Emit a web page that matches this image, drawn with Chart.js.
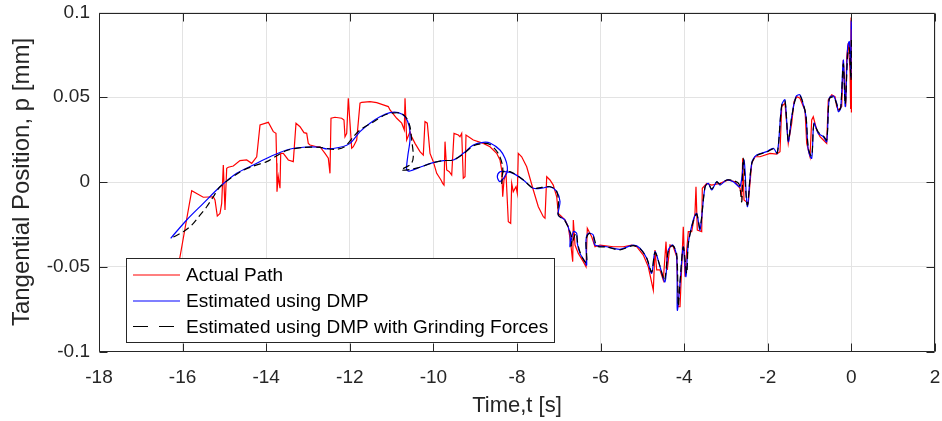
<!DOCTYPE html>
<html>
<head>
<meta charset="utf-8">
<script src="https://cdn.jsdelivr.net/npm/chart.js@4/dist/chart.umd.min.js"></script>
<style>
  html, body { margin: 0; padding: 0; background: #ffffff; }
  #wrap { width: 942px; height: 421px; position: relative; }
</style>
</head>
<body>
<div id="wrap"><canvas id="c" width="942" height="421"></canvas></div>
<script>
// Time axis ticks and position axis ticks
const timeTicks = [-18, -16, -14, -12, -10, -8, -6, -4, -2, 0, 2];
const posTicks = [-0.1, -0.05, 0, 0.05, 0.1];
const posTickLabels = ['-0.1', '-0.05', '0', '0.05', '0.1'];

const seriesNames = ['Actual Path', 'Estimated using DMP', 'Estimated using DMP with Grinding Forces'];

// Actual (measured) path
const actualT = [-16.278,-16.062,-15.782,-15.505,-15.266,-15.225,-15.170,-15.105,-15.065,-15.026,-14.986,-14.945,-14.907,-14.787,-14.627,-14.467,-14.347,-14.227,-14.148,-13.950,-13.830,-13.766,-13.749,-13.742,-13.711,-13.670,-13.653,-13.591,-13.471,-13.352,-13.287,-13.191,-13.096,-13.031,-12.993,-12.952,-12.792,-12.713,-12.593,-12.514,-12.474,-12.450,-12.354,-12.194,-12.139,-12.115,-12.074,-12.036,-11.995,-11.955,-11.916,-11.835,-11.756,-11.715,-11.517,-11.356,-11.199,-11.079,-11.038,-10.878,-10.758,-10.696,-10.679,-10.639,-10.560,-10.519,-10.440,-10.321,-10.242,-10.201,-10.146,-10.081,-10.002,-9.921,-9.818,-9.778,-9.746,-9.722,-9.682,-9.620,-9.562,-9.507,-9.404,-9.364,-9.323,-9.285,-9.244,-9.220,-9.045,-8.806,-8.646,-8.486,-8.407,-8.366,-8.342,-8.311,-8.263,-8.208,-8.151,-8.127,-8.089,-8.024,-7.993,-7.969,-7.888,-7.768,-7.610,-7.490,-7.371,-7.330,-7.289,-7.211,-7.132,-7.050,-7.012,-6.852,-6.773,-6.715,-6.667,-6.653,-6.612,-6.533,-6.414,-6.349,-6.318,-6.213,-6.134,-6.014,-5.696,-5.457,-5.256,-5.136,-4.978,-4.859,-4.739,-4.699,-4.658,-4.579,-4.500,-4.435,-4.404,-4.340,-4.261,-4.179,-4.141,-4.100,-4.060,-4.022,-3.981,-3.940,-3.902,-3.821,-3.742,-3.718,-3.687,-3.581,-3.567,-3.462,-3.342,-3.144,-2.945,-2.785,-2.665,-2.624,-2.601,-2.569,-2.467,-2.385,-2.306,-2.187,-1.947,-1.787,-1.708,-1.667,-1.589,-1.510,-1.428,-1.373,-1.309,-1.230,-1.151,-1.110,-1.069,-0.990,-0.950,-0.912,-0.830,-0.751,-0.672,-0.591,-0.553,-0.471,-0.392,-0.352,-0.313,-0.232,-0.194,-0.136,-0.112,-0.074,-0.033,-0.018,-0.008,0.000];
const actualP = [-0.0697,-0.0441,-0.0051,-0.0090,-0.0087,-0.0106,-0.0201,-0.0185,-0.0126,0.0100,-0.0165,0.0081,0.0087,0.0094,0.0126,0.0130,0.0110,0.0149,0.0336,0.0352,0.0297,0.0287,0.0110,-0.0057,0.0031,-0.0037,0.0169,0.0169,0.0130,0.0120,0.0347,0.0326,0.0291,0.0287,0.0228,0.0218,0.0208,0.0208,0.0169,0.0140,0.0051,0.0376,0.0382,0.0376,0.0366,0.0267,0.0287,0.0494,0.0347,0.0199,0.0208,0.0248,0.0465,0.0470,0.0474,0.0468,0.0455,0.0445,0.0425,0.0376,0.0347,0.0307,0.0494,0.0248,0.0297,0.0267,0.0228,0.0179,0.0159,0.0356,0.0347,0.0169,0.0120,0.0051,0.0012,-0.0008,-0.0018,0.0238,0.0071,0.0061,0.0041,0.0287,0.0277,0.0267,0.0287,0.0022,0.0031,0.0277,0.0248,0.0228,0.0208,0.0169,0.0130,0.0071,-0.0087,0.0012,0.0051,-0.0234,-0.0244,-0.0008,-0.0057,-0.0028,-0.0067,0.0169,0.0149,0.0090,-0.0047,-0.0146,-0.0205,-0.0214,0.0031,0.0012,-0.0018,-0.0087,-0.0185,-0.0224,-0.0264,-0.0362,-0.0470,-0.0224,-0.0372,-0.0421,-0.0470,-0.0500,-0.0273,-0.0323,-0.0382,-0.0372,-0.0382,-0.0382,-0.0372,-0.0382,-0.0431,-0.0500,-0.0638,-0.0401,-0.0519,-0.0519,-0.0579,-0.0352,-0.0519,-0.0372,-0.0382,-0.0441,-0.0736,-0.0736,-0.0500,-0.0264,-0.0559,-0.0401,-0.0293,-0.0293,-0.0185,-0.0028,-0.0283,-0.0293,-0.0037,-0.0008,-0.0018,-0.0008,0.0012,0.0002,-0.0037,-0.0087,0.0140,-0.0106,-0.0126,0.0110,0.0149,0.0149,0.0169,0.0165,0.0179,0.0445,0.0465,0.0228,0.0347,0.0474,0.0504,0.0494,0.0445,0.0425,0.0228,0.0149,0.0366,0.0385,0.0307,0.0267,0.0248,0.0228,0.0484,0.0514,0.0504,0.0445,0.0425,0.0445,0.0720,0.0445,0.0740,0.0819,0.0661,0.0430,0.0970,0.0410];

// DMP estimate
const dmpT = [-16.285,-15.902,-15.505,-15.105,-14.706,-14.309,-13.909,-13.510,-13.112,-12.713,-12.553,-12.234,-11.995,-11.756,-11.517,-11.278,-11.038,-10.840,-10.679,-10.577,-10.560,-10.615,-10.639,-10.560,-10.321,-10.002,-9.763,-9.524,-9.285,-9.045,-8.806,-8.646,-8.407,-8.287,-8.232,-8.246,-8.407,-8.471,-8.407,-8.287,-8.089,-7.849,-7.610,-7.409,-7.211,-7.050,-6.971,-7.012,-6.852,-6.732,-6.732,-6.653,-6.572,-6.557,-6.493,-6.373,-6.333,-6.349,-6.294,-6.175,-6.134,-5.854,-5.536,-5.218,-5.057,-4.897,-4.778,-4.699,-4.579,-4.459,-4.380,-4.275,-4.179,-4.165,-4.100,-4.022,-3.957,-3.902,-3.782,-3.701,-3.622,-3.502,-3.423,-3.342,-3.222,-3.144,-2.983,-2.825,-2.665,-2.569,-2.490,-2.385,-2.266,-2.026,-1.868,-1.773,-1.667,-1.589,-1.510,-1.428,-1.325,-1.230,-1.151,-1.086,-1.031,-0.950,-0.895,-0.792,-0.672,-0.591,-0.529,-0.433,-0.352,-0.313,-0.256,-0.194,-0.146,-0.089,-0.050,-0.015,-0.005,0.000];
const dmpP = [-0.0332,-0.0224,-0.0126,-0.0028,0.0051,0.0100,0.0149,0.0189,0.0205,0.0205,0.0195,0.0205,0.0228,0.0297,0.0347,0.0385,0.0409,0.0409,0.0385,0.0326,0.0248,0.0149,0.0071,0.0065,0.0087,0.0114,0.0126,0.0130,0.0169,0.0218,0.0234,0.0230,0.0189,0.0140,0.0090,0.0051,0.0002,0.0031,0.0061,0.0061,0.0051,0.0012,-0.0037,-0.0037,-0.0028,-0.0057,-0.0116,-0.0195,-0.0224,-0.0303,-0.0382,-0.0293,-0.0303,-0.0362,-0.0421,-0.0470,-0.0490,-0.0342,-0.0303,-0.0313,-0.0372,-0.0382,-0.0397,-0.0372,-0.0391,-0.0450,-0.0539,-0.0411,-0.0500,-0.0589,-0.0401,-0.0372,-0.0441,-0.0756,-0.0598,-0.0382,-0.0559,-0.0362,-0.0224,-0.0185,-0.0283,-0.0028,-0.0008,-0.0047,0.0002,-0.0018,0.0012,0.0002,-0.0028,0.0130,-0.0146,0.0110,0.0159,0.0179,0.0199,0.0169,0.0455,0.0484,0.0238,0.0385,0.0504,0.0514,0.0455,0.0385,0.0189,0.0140,0.0347,0.0287,0.0267,0.0238,0.0494,0.0508,0.0465,0.0415,0.0435,0.0720,0.0445,0.0799,0.0828,0.0620,0.0950,0.0900];

// DMP estimate with grinding forces
const dmpForceT = [-16.222,-15.983,-15.782,-15.584,-15.423,-15.266,-15.105,-14.627,-14.309,-13.988,-13.789,-13.510,-13.112,-12.713,-12.354,-12.115,-11.916,-11.756,-11.438,-11.134,-10.799,-10.639,-10.560,-10.519,-10.481,-10.536,-10.775,-10.560,-10.321,-10.002,-9.763,-9.524,-9.285,-9.045,-8.806,-8.646,-8.455,-8.342,-8.366,-8.328,-8.167,-7.849,-7.610,-7.409,-7.211,-7.067,-7.007,-7.012,-6.852,-6.684,-6.708,-6.589,-6.541,-6.445,-6.333,-6.349,-6.278,-6.175,-6.086,-5.854,-5.536,-5.218,-5.057,-4.897,-4.778,-4.699,-4.579,-4.471,-4.380,-4.275,-4.179,-4.141,-4.100,-4.022,-3.940,-3.902,-3.782,-3.701,-3.622,-3.502,-3.423,-3.342,-3.222,-3.144,-2.983,-2.825,-2.689,-2.624,-2.586,-2.490,-2.385,-2.266,-2.026,-1.868,-1.773,-1.667,-1.589,-1.510,-1.428,-1.325,-1.230,-1.151,-1.086,-1.031,-0.950,-0.895,-0.792,-0.672,-0.591,-0.529,-0.433,-0.352,-0.313,-0.256,-0.194,-0.146,-0.089,-0.050,-0.010,0.000];
const dmpForceP = [-0.0325,-0.0293,-0.0254,-0.0195,-0.0146,-0.0087,-0.0028,0.0059,0.0094,0.0120,0.0149,0.0186,0.0204,0.0204,0.0192,0.0210,0.0266,0.0307,0.0354,0.0398,0.0407,0.0376,0.0326,0.0248,0.0149,0.0106,0.0071,0.0074,0.0087,0.0114,0.0126,0.0130,0.0165,0.0213,0.0227,0.0221,0.0171,0.0090,-0.0008,0.0061,0.0061,0.0012,-0.0037,-0.0032,-0.0028,-0.0047,-0.0106,-0.0195,-0.0230,-0.0331,-0.0378,-0.0301,-0.0372,-0.0443,-0.0478,-0.0342,-0.0304,-0.0319,-0.0378,-0.0384,-0.0400,-0.0375,-0.0393,-0.0449,-0.0531,-0.0416,-0.0496,-0.0579,-0.0407,-0.0375,-0.0425,-0.0732,-0.0590,-0.0384,-0.0539,-0.0366,-0.0230,-0.0189,-0.0272,-0.0030,-0.0009,-0.0041,0.0000,-0.0012,0.0012,0.0009,-0.0012,-0.0116,0.0140,-0.0136,0.0109,0.0156,0.0177,0.0195,0.0171,0.0449,0.0478,0.0245,0.0381,0.0499,0.0508,0.0460,0.0390,0.0201,0.0153,0.0342,0.0295,0.0272,0.0248,0.0490,0.0502,0.0460,0.0425,0.0437,0.0697,0.0460,0.0750,0.0791,0.0602,0.0838];

const seriesColors = ['#ff0000', '#0000ff', '#000000'];
const textColor = '#262626';
const toPoints = (ts, ps) => ts.map((t, i) => ({ x: t, y: ps[i] }));

// Axes box with inward tick marks on all four sides
const axesBox = {
  id: 'axesBox',
  afterDatasetsDraw(chart) {
    const { ctx, chartArea: a, scales } = chart;
    ctx.save();
    ctx.strokeStyle = textColor;
    ctx.lineWidth = 1;
    const L = Math.round(a.left) + 0.5, R = Math.round(a.right) - 0.5;
    const T = Math.round(a.top) + 0.5, B = Math.round(a.bottom) - 0.5;
    ctx.beginPath();
    ctx.rect(L, T, R - L, B - T);
    const len = 8;
    timeTicks.forEach(v => {
      const x = Math.round(scales.x.getPixelForValue(v)) + 0.5;
      ctx.moveTo(x, B); ctx.lineTo(x, B - len);
      ctx.moveTo(x, T); ctx.lineTo(x, T + len);
    });
    posTicks.forEach(v => {
      const y = Math.round(scales.y.getPixelForValue(v)) + 0.5;
      ctx.moveTo(L, y); ctx.lineTo(L + len, y);
      ctx.moveTo(R, y); ctx.lineTo(R - len, y);
    });
    ctx.stroke();
    ctx.restore();
  }
};

// Boxed legend inside the axes, lower left
const boxedLegend = {
  id: 'boxedLegend',
  afterDraw(chart) {
    const { ctx, chartArea: a } = chart;
    const x0 = a.left + 27, y0 = 258.5, w = 428, h = 84;
    ctx.save();
    ctx.fillStyle = '#ffffff';
    ctx.fillRect(x0, y0, w, h);
    ctx.strokeStyle = textColor;
    ctx.lineWidth = 1;
    ctx.strokeRect(x0 + 0.5, y0, w, h);
    ctx.font = '19px "Liberation Sans", Arial, sans-serif';
    ctx.textBaseline = 'middle';
    ctx.fillStyle = '#000000';
    const rows = [275, 301, 326.5];
    seriesNames.forEach((name, i) => {
      const y = rows[i];
      ctx.beginPath();
      ctx.strokeStyle = seriesColors[i];
      ctx.lineWidth = 1.2;
      ctx.setLineDash(i === 2 ? [15, 11] : []);
      ctx.moveTo(x0 + 7, y);
      ctx.lineTo(x0 + 54, y);
      ctx.stroke();
      ctx.setLineDash([]);
      ctx.fillText(name, x0 + 60, y + 1);
    });
    ctx.restore();
  }
};

new Chart(document.getElementById('c'), {
  type: 'line',
  data: {
    datasets: [
      { label: seriesNames[0], data: toPoints(actualT, actualP), borderColor: seriesColors[0], borderWidth: 1.2, pointRadius: 0, tension: 0, order: 3 },
      { label: seriesNames[1], data: toPoints(dmpT, dmpP), borderColor: seriesColors[1], borderWidth: 1.2, pointRadius: 0, tension: 0.3, order: 2 },
      { label: seriesNames[2], data: toPoints(dmpForceT, dmpForceP), borderColor: seriesColors[2], borderWidth: 1.2, borderDash: [7, 4], pointRadius: 0, tension: 0.3, order: 1 }
    ]
  },
  options: {
    responsive: false,
    animation: false,
    events: [],
    layout: { padding: { left: 0, right: 7, top: 12.5, bottom: 0 } },
    plugins: { legend: { display: false }, tooltip: { enabled: false } },
    scales: {
      x: {
        type: 'linear',
        min: -18, max: 2,
        afterBuildTicks: s => { s.ticks = timeTicks.map(v => ({ value: v })); },
        afterFit: s => { s.height = 69.5; s.paddingLeft = 0; s.paddingRight = 0; },
        ticks: { color: textColor, padding: 15, maxRotation: 0, font: { family: '"Liberation Sans", Arial, sans-serif', size: 19 }, callback: v => String(v) },
        grid: { color: '#e3e3e3', lineWidth: 1, drawTicks: false },
        border: { display: false },
        title: { display: true, text: 'Time,t [s]', color: textColor, font: { family: '"Liberation Sans", Arial, sans-serif', size: 22 }, padding: { top: 0, bottom: 2 } }
      },
      y: {
        type: 'linear',
        min: -0.1, max: 0.1,
        afterBuildTicks: s => { s.ticks = posTicks.map(v => ({ value: v })); },
        afterFit: s => { s.width = 99; s.paddingTop = 0; s.paddingBottom = 0; },
        ticks: { color: textColor, padding: 9, font: { family: '"Liberation Sans", Arial, sans-serif', size: 19 }, callback: (v, i) => posTickLabels[i] },
        grid: { color: '#e3e3e3', lineWidth: 1, drawTicks: false },
        border: { display: false },
        title: { display: true, text: 'Tangential Position, p [mm]', color: textColor, font: { family: '"Liberation Sans", Arial, sans-serif', size: 24 }, padding: { top: 8, bottom: 0 } }
      }
    }
  },
  plugins: [axesBox, boxedLegend]
});
</script>
</body>
</html>
